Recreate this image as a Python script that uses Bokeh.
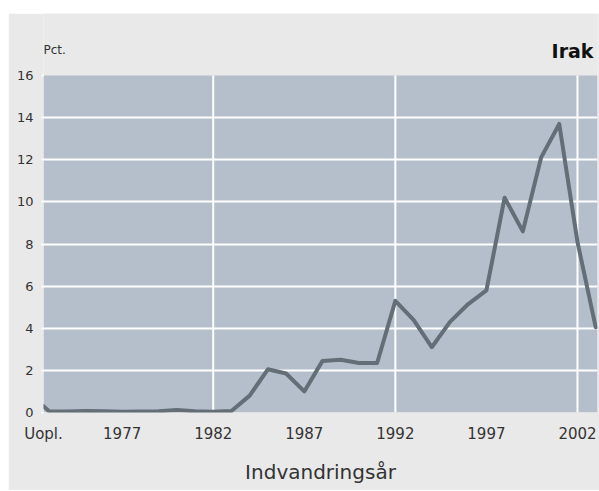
from bokeh.plotting import figure
from bokeh.models import FixedTicker, CustomJSTickFormatter, Range1d, BoxAnnotation
from bokeh.core.properties import value
from bokeh.embed import file_html
from bokeh.resources import INLINE

# ---- data ----
categories = ["Uopl."] + [str(y) for y in range(1973, 2004)]
values = [0.3,
          0.05, 0.05, 0.07, 0.06, 0.04, 0.05, 0.06, 0.12, 0.06, 0.04,
          0.07, 0.8, 2.05, 1.85, 1.0, 2.45, 2.5, 2.35, 2.35, 5.3,
          4.4, 3.1, 4.3, 5.15, 5.8, 10.2, 8.6, 12.1, 13.7, 8.1,
          4.05]
x_tick_labels = ["Uopl.", "1977", "1982", "1987", "1992", "1997", "2002"]
x_grid_years = [1982, 1992, 2002]
y_ticks = [0, 2, 4, 6, 8, 10, 12, 14, 16]
title_text = "Irak"
unit_text = "Pct."
x_label = "Indvandringsår"

X_START = 1972.68
X_END = 2003.1
Y_MAX = 16
Y_TOP = 18.944   # extra headroom inside the frame for the header texts

xs = [X_START] + [int(c) for c in categories[1:]]
x_tick_pos = [X_START] + [int(t) for t in x_tick_labels[1:]]

BG = "#e9e9e9"
PLOT_BG = "#b5bfcb"
LINE = "#636e77"
TXT = "#333333"

p = figure(width=591, height=477, output_backend="svg", toolbar_location=None,
           x_range=Range1d(X_START, X_END), y_range=Range1d(0, Y_TOP),
           min_border_left=35, min_border_right=2, min_border_top=0, min_border_bottom=78,
           background_fill_color=BG, border_fill_color=BG)
p.margin = (13, 0, 0, 8)
p.outline_line_color = None

# plot area background (0..16)
p.add_layout(BoxAnnotation(bottom=0, top=Y_MAX, fill_color=PLOT_BG, fill_alpha=1,
                           line_color=None, level="image"))

# grids
p.xgrid.visible = False
p.segment(x0=x_grid_years, y0=[0] * len(x_grid_years), x1=x_grid_years,
          y1=[Y_MAX] * len(x_grid_years), line_color="white", line_width=2, level="underlay")
p.ygrid.ticker = FixedTicker(ticks=y_ticks[:-1])
p.ygrid.grid_line_color = "white"
p.ygrid.grid_line_width = 2

p.line(xs, values, line_color=LINE, line_width=4, line_join="round", line_cap="round")

# axes
xa = p.xaxis[0]
xa.ticker = FixedTicker(ticks=x_tick_pos)
xa.formatter = CustomJSTickFormatter(code="return tick < 1973 ? 'Uopl.' : tick.toFixed(0);")
xa.axis_line_color = None
xa.major_tick_line_color = None
xa.minor_tick_line_color = None
xa.major_tick_out = 0
xa.major_tick_in = 0
xa.major_label_standoff = 12
xa.major_label_text_font = "DejaVu Sans"
xa.major_label_text_font_size = "15px"
xa.major_label_text_line_height = 1.0
xa.major_label_text_color = TXT
xa.axis_label = x_label
xa.axis_label_text_font = "DejaVu Sans"
xa.axis_label_text_font_size = "20px"
xa.axis_label_text_line_height = 1.0
xa.axis_label_text_font_style = "normal"
xa.axis_label_text_color = TXT
xa.axis_label_standoff = 14

ya = p.yaxis[0]
ya.ticker = FixedTicker(ticks=y_ticks)
ya.axis_line_color = None
ya.major_tick_line_color = "white"
ya.major_tick_line_width = 2
ya.major_tick_out = 2
ya.major_tick_in = 0
ya.minor_tick_line_color = None
ya.major_label_standoff = 8
ya.major_label_text_font = "DejaVu Sans"
ya.major_label_text_font_size = "13px"
ya.major_label_text_color = TXT

# header texts
p.text(x=[X_START], y=[Y_MAX], text=[unit_text], y_offset=-26, text_align="left",
       text_baseline="alphabetic", text_font=value("DejaVu Sans"), text_font_size="12px",
       text_color=TXT)
p.text(x=[X_END], y=[Y_MAX], text=[title_text], x_offset=-4, y_offset=-25, text_align="right",
       text_baseline="alphabetic", text_font=value("DejaVu Sans"), text_font_size="19px",
       text_font_style="bold", text_color="#111111")

open("out.html", "w").write(file_html(p, INLINE))
